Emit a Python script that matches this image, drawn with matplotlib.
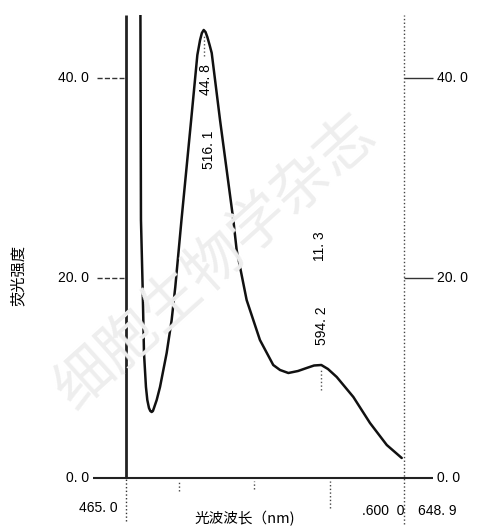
import numpy as np
import matplotlib.pyplot as plt

plt.rcParams['font.family'] = ['Liberation Sans', 'Noto Sans CJK SC', 'DejaVu Sans']

# === DATA ===
wavelength = [474.3, 474.9, 476.0, 476.9, 478.2, 479.1, 480.2, 481.1, 482.0, 482.8,
              483.5, 485.3, 487.5, 491.9, 495.2, 497.6, 501.7, 504.9, 508.1, 512.2,
              514.0, 515.2, 516.4, 517.6, 518.8, 520.3, 521.7, 527.2, 536.0, 538.2,
              544.8, 553.6, 562.4, 566.9, 572.4, 578.8, 584.5, 589.4, 594.2, 598.6,
              604.4, 615.4, 626.4, 637.5, 647.4]
intensity = [60.0, 25.8, 19.1, 12.5, 9.1, 7.8, 7.0, 6.7, 6.6, 6.7,
             7.0, 7.8, 9.1, 12.5, 15.8, 19.1, 25.8, 30.8, 35.8, 42.3,
             43.8, 44.5, 44.8, 44.6, 44.1, 43.3, 42.5, 35.8, 25.8, 22.8,
             17.8, 13.8, 11.3, 10.8, 10.5, 10.7, 11.0, 11.25, 11.3, 10.9,
             10.1, 8.1, 5.5, 3.3, 2.0]
peaks_x = [516.1, 594.2]
peaks_y = [44.8, 11.3]
yticks = [0, 20, 40]
ytick_labels = ['0. 0', '20. 0', '40. 0']
minor_x = [500, 550, 600]
x_min, x_max = 465.0, 648.9
y_max = 46.3

W, H = 484, 530
fig = plt.figure(figsize=(W / 100, H / 100), dpi=100)


def fx(x):
    return x / W


def fy(y):
    return 1 - y / H


def fmt(v):
    return f'{v:.1f}'.replace('.', '. ')


ax = fig.add_axes([fx(126), fy(478), fx(404) - fx(126), fy(15) - fy(478)])
ax.set_xlim(x_min, x_max)
ax.set_ylim(0, y_max)
ax.axis('off')

# faint journal watermark
fig.text(fx(215), fy(262), '细胞生物学杂志', fontsize=42, color='#eeeeee',
         rotation=42, ha='center', va='center', family=['Noto Sans CJK SC'], zorder=0)

# spectrum
ax.plot(wavelength, intensity, color='#111111', lw=1.8, solid_joinstyle='round',
        solid_capstyle='round', zorder=3)

# axes frame lines
ax.vlines(x_min, 0, y_max, color='#222222', lw=2.0, clip_on=False)
ax.vlines(x_min, -4.3, 0, color='#333333', lw=1.0, linestyles=':', clip_on=False)
ax.vlines(x_max, -4.6, y_max, color='#444444', lw=1.0, linestyles=':', clip_on=False)
ax.hlines(0, 443.5, 668, color='#222222', lw=1.5, clip_on=False)
ax.hlines([40, 20], 446, 464, color='#333333', lw=1.0, linestyles='--', clip_on=False)
ax.hlines([40, 20], x_max, 668, color='#333333', lw=1.0, clip_on=False)
for xm, d in zip(minor_x, [-1.3, -1.1, -3.0]):
    ax.vlines(xm, d, -0.3, color='#444444', lw=1.0, linestyles=':', clip_on=False)

# peak markers
ax.vlines(peaks_x[0] + 0.6, 42.2, 44.3, color='#555555', lw=1.0, linestyles=':')
ax.vlines(peaks_x[1], 8.8, 11.0, color='#555555', lw=1.0, linestyles=':')

# tick labels
for v, lab in zip(yticks, ytick_labels):
    yp = 478 - v * 10.0
    fig.text(fx(89), fy(yp), lab, fontsize=10, ha='right', va='center')
    fig.text(fx(437), fy(yp), lab, fontsize=10, ha='left', va='center')

fig.text(fx(118), fy(508), '465. 0', fontsize=10, ha='right', va='center')
fig.text(fx(404), fy(511), '.600  0', fontsize=10, ha='right', va='center')
fig.text(fx(418), fy(511), '648. 9', fontsize=10, ha='left', va='center')

# peak labels
fig.text(fx(206), fy(80), fmt(peaks_y[0]), fontsize=10, rotation=90, ha='center', va='center')
fig.text(fx(209), fy(150), fmt(peaks_x[0]), fontsize=10, rotation=90, ha='center', va='center')
fig.text(fx(320), fy(246), fmt(peaks_y[1]), fontsize=10, rotation=90, ha='center', va='center')
fig.text(fx(322), fy(326), fmt(peaks_x[1]), fontsize=10, rotation=90, ha='center', va='center')

# axis titles
fig.text(fx(18), fy(275), '荧光强度', fontsize=11, rotation=90, ha='center', va='center',
         family=['Noto Sans CJK SC', 'DejaVu Sans'])
fig.text(fx(245), fy(519), '光波波长（nm)', fontsize=10.5, ha='center', va='center',
         family=['Noto Sans CJK SC', 'DejaVu Sans'])

fig.savefig('out.png', dpi=100)
